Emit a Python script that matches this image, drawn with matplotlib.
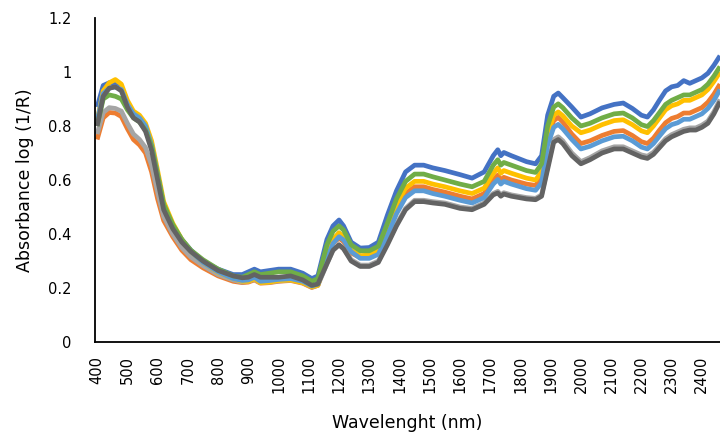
import matplotlib
matplotlib.use("Agg")
import matplotlib.pyplot as plt

# wavelength grid (nm) and absorbance log(1/R) per sample
wavelength = [400, 420, 440, 460, 480, 500, 520, 540, 560, 580, 600, 620, 650, 680, 710, 750,
              800, 850, 880, 900, 920, 940, 970, 1000, 1040, 1080, 1110, 1130, 1160, 1180, 1200,
              1215, 1240, 1270, 1300, 1330, 1360, 1390, 1420, 1450, 1480, 1510, 1550, 1600, 1640,
              1680, 1710, 1725, 1735, 1745, 1770, 1820, 1850, 1870, 1890, 1910, 1925, 1940, 1970,
              2000, 2030, 2070, 2110, 2140, 2170, 2200, 2220, 2240, 2260, 2280, 2300, 2320, 2340,
              2360, 2380, 2400, 2420, 2440, 2460]

s1 = [0.87, 0.95, 0.96, 0.955, 0.94, 0.88, 0.845, 0.83, 0.80, 0.72, 0.61, 0.50, 0.43, 0.38, 0.34, 0.30,
      0.27, 0.25, 0.25, 0.26, 0.27, 0.26, 0.265, 0.27, 0.27, 0.255, 0.235, 0.245, 0.38, 0.43, 0.452,
      0.43, 0.37, 0.348, 0.35, 0.37, 0.47, 0.56, 0.63, 0.655, 0.655, 0.645, 0.635, 0.62, 0.607,
      0.63, 0.69, 0.712, 0.69, 0.702, 0.69, 0.668, 0.66, 0.69, 0.84, 0.91, 0.922, 0.905, 0.87,
      0.833, 0.845, 0.867, 0.88, 0.885, 0.865, 0.84, 0.833, 0.86, 0.896, 0.93, 0.945, 0.95, 0.968,
      0.958, 0.968, 0.978, 0.995, 1.025, 1.06]

s2 = [0.75, 0.83, 0.85, 0.848, 0.835, 0.79, 0.75, 0.73, 0.70, 0.63, 0.53, 0.45, 0.39, 0.34, 0.305, 0.275,
      0.245, 0.225, 0.22, 0.222, 0.23, 0.218, 0.22, 0.225, 0.228, 0.218, 0.202, 0.21, 0.31, 0.365, 0.385,
      0.372, 0.33, 0.313, 0.315, 0.33, 0.405, 0.49, 0.55, 0.575, 0.575, 0.565, 0.555, 0.54, 0.53,
      0.55, 0.60, 0.618, 0.60, 0.61, 0.60, 0.585, 0.58, 0.61, 0.75, 0.82, 0.832, 0.815, 0.77,
      0.735, 0.745, 0.765, 0.78, 0.783, 0.765, 0.742, 0.735, 0.755, 0.785, 0.812, 0.828, 0.835, 0.848,
      0.848, 0.858, 0.868, 0.888, 0.918, 0.955]

s3 = [0.77, 0.85, 0.868, 0.865, 0.855, 0.81, 0.77, 0.75, 0.72, 0.655, 0.555, 0.465, 0.40, 0.35, 0.315, 0.283,
      0.25, 0.23, 0.222, 0.225, 0.232, 0.22, 0.222, 0.226, 0.23, 0.22, 0.204, 0.21, 0.29, 0.34, 0.36,
      0.347, 0.305, 0.285, 0.285, 0.30, 0.365, 0.435, 0.495, 0.525, 0.525, 0.52, 0.515, 0.50, 0.495,
      0.515, 0.55, 0.558, 0.545, 0.553, 0.545, 0.535, 0.532, 0.545, 0.65, 0.75, 0.76, 0.745, 0.70,
      0.668, 0.683, 0.708, 0.723, 0.723, 0.708, 0.693, 0.688, 0.703, 0.728, 0.753, 0.768, 0.778, 0.788,
      0.793, 0.793, 0.803, 0.818, 0.853, 0.898]

s4 = [0.82, 0.93, 0.96, 0.972, 0.955, 0.895, 0.855, 0.84, 0.81, 0.745, 0.635, 0.52, 0.44, 0.38, 0.335, 0.295,
      0.258, 0.235, 0.225, 0.225, 0.235, 0.22, 0.222, 0.228, 0.23, 0.22, 0.205, 0.21, 0.32, 0.38, 0.405,
      0.39, 0.34, 0.32, 0.322, 0.34, 0.42, 0.51, 0.57, 0.595, 0.595, 0.585, 0.575, 0.56, 0.55,
      0.57, 0.625, 0.645, 0.625, 0.635, 0.625, 0.607, 0.60, 0.63, 0.77, 0.84, 0.852, 0.838, 0.80,
      0.775, 0.785, 0.805, 0.82, 0.823, 0.805, 0.782, 0.775, 0.80, 0.83, 0.86, 0.875, 0.882, 0.895,
      0.895, 0.905, 0.915, 0.935, 0.965, 1.0]

s5 = [0.82, 0.92, 0.94, 0.945, 0.935, 0.88, 0.845, 0.83, 0.80, 0.73, 0.62, 0.505, 0.43, 0.375, 0.335, 0.295,
      0.26, 0.235, 0.228, 0.23, 0.24, 0.225, 0.228, 0.232, 0.235, 0.225, 0.208, 0.215, 0.31, 0.365, 0.39,
      0.378, 0.335, 0.31, 0.31, 0.325, 0.395, 0.475, 0.535, 0.56, 0.56, 0.55, 0.54, 0.525, 0.515,
      0.535, 0.585, 0.602, 0.585, 0.595, 0.585, 0.568, 0.562, 0.59, 0.73, 0.795, 0.806, 0.79, 0.75,
      0.715, 0.725, 0.745, 0.76, 0.762, 0.745, 0.722, 0.715, 0.735, 0.763, 0.79, 0.805, 0.812, 0.825,
      0.825, 0.835, 0.845, 0.865, 0.895, 0.935]

s6 = [0.80, 0.90, 0.915, 0.91, 0.90, 0.86, 0.83, 0.815, 0.785, 0.725, 0.62, 0.51, 0.435, 0.38, 0.34, 0.305,
      0.27, 0.245, 0.24, 0.25, 0.26, 0.25, 0.255, 0.26, 0.26, 0.245, 0.225, 0.235, 0.36, 0.41, 0.43,
      0.415, 0.36, 0.338, 0.338, 0.355, 0.44, 0.53, 0.595, 0.622, 0.622, 0.612, 0.60, 0.585, 0.575,
      0.595, 0.655, 0.675, 0.655, 0.665, 0.655, 0.635, 0.628, 0.66, 0.80, 0.87, 0.882, 0.868, 0.83,
      0.80, 0.81, 0.83, 0.845, 0.848, 0.83, 0.805, 0.798, 0.82, 0.85, 0.88, 0.895, 0.905, 0.915,
      0.915, 0.925, 0.935, 0.955, 0.985, 1.02]

s7 = [0.80, 0.91, 0.94, 0.945, 0.93, 0.87, 0.83, 0.815, 0.78, 0.71, 0.60, 0.49, 0.42, 0.37, 0.335, 0.30,
      0.265, 0.245, 0.238, 0.24, 0.25, 0.24, 0.24, 0.24, 0.245, 0.23, 0.21, 0.215, 0.29, 0.34, 0.36,
      0.345, 0.30, 0.28, 0.28, 0.295, 0.36, 0.43, 0.49, 0.52, 0.52, 0.515, 0.51, 0.495, 0.49,
      0.51, 0.545, 0.552, 0.54, 0.548, 0.54, 0.53, 0.527, 0.54, 0.64, 0.74, 0.75, 0.735, 0.69,
      0.66, 0.675, 0.70, 0.715, 0.715, 0.70, 0.685, 0.68, 0.695, 0.72, 0.745, 0.76, 0.77, 0.78,
      0.785, 0.785, 0.795, 0.81, 0.845, 0.89]

series = [s1, s2, s3, s4, s5, s6, s7]
colors = ['#4472C4', '#ED7D31', '#A5A5A5', '#FFC000', '#5B9BD5', '#70AD47', '#636363']

yticks = [0, 0.2, 0.4, 0.6, 0.8, 1.0, 1.2]
ylabels = ['0', '0.2', '0.4', '0.6', '0.8', '1', '1.2']
xticks = list(range(400, 2500, 100))

plt.rcParams['font.family'] = 'DejaVu Sans'

fig = plt.figure(figsize=(7.2, 4.38), dpi=100)
ax = fig.add_axes([0.132, 0.219, 0.868, 0.740])

for vals, c in zip(series, colors):
    ax.plot(wavelength, vals, color=c, linewidth=3.4, solid_joinstyle='round', solid_capstyle='butt')

ax.set_xlim(393, 2460)
ax.set_ylim(0, 1.2)
ax.set_yticks(yticks)
ax.set_yticklabels(ylabels)
ax.set_xticks(xticks)
ax.set_xticklabels([str(t) for t in xticks], rotation=90)
ax.tick_params(axis='both', length=0, labelsize=10.5, colors='black')
ax.tick_params(axis='y', pad=17)
ax.tick_params(axis='x', pad=10)

for side in ['top', 'right']:
    ax.spines[side].set_visible(False)
for side in ['left', 'bottom']:
    ax.spines[side].set_linewidth(1.3)
    ax.spines[side].set_color('black')

ax.set_xlabel('Wavelenght (nm)', fontsize=12.5, labelpad=15)
ax.set_ylabel('Absorbance log (1/R)', fontsize=12.5, labelpad=10)

fig.savefig('out.png', dpi=100)
